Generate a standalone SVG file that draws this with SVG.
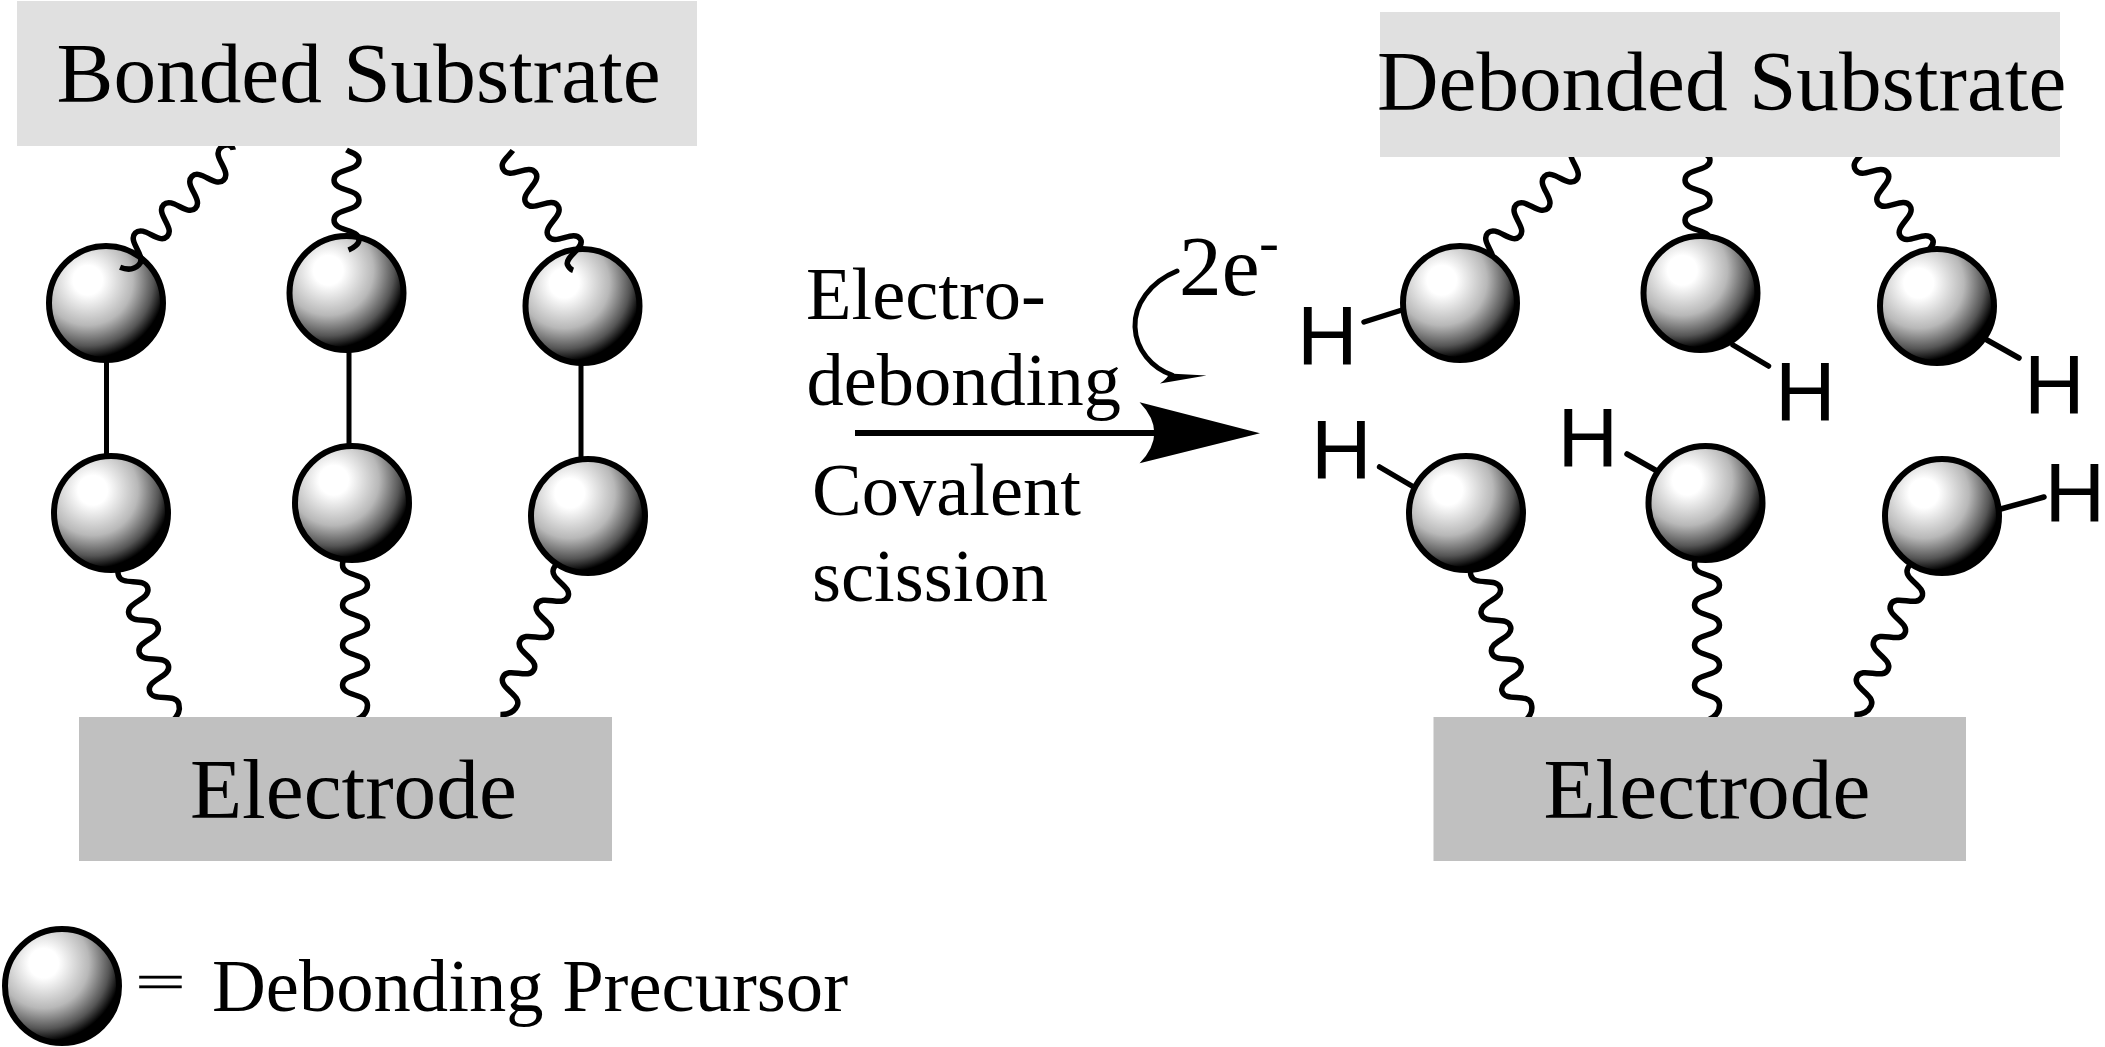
<svg xmlns="http://www.w3.org/2000/svg" width="2105" height="1047" viewBox="0 0 2105 1047">
<style>
.t{font-family:"Liberation Serif","Times New Roman",serif;fill:#000}
.s{font-size:85.3px}
.m{font-size:74.5px}
.h{font-family:"Liberation Sans",Arial,sans-serif;font-size:84px;fill:#000}
.b{fill:url(#sph);stroke:#000;stroke-width:6}
.w{fill:none;stroke:#000;stroke-width:5.5}
.l{fill:none;stroke:#000;stroke-width:5}
.r{fill:none;stroke:#000;stroke-width:5.5;stroke-linecap:round}
.sub{fill:#e0e0e0}
.el{fill:#c0c0c0}
</style>
<defs>
<radialGradient id="sph" cx="0.34" cy="0.3" r="0.72">
<stop offset="0.18" stop-color="#fff"/>
<stop offset="0.55" stop-color="#b8b8b8"/>
<stop offset="0.8" stop-color="#555"/>
<stop offset="0.95" stop-color="#000"/>
</radialGradient>
<path id="w4" class="w" d="M-2,-8C-6,-11 -12.5,-8 -12.5,0C-12.5,12 12.5,8 12.5,20S-12.5,28 -12.5,40S12.5,48 12.5,60S-12.5,68 -12.5,80S12.5,88 12.5,100S-12.5,108 -12.5,120S12.5,128 12.5,140C12.5,147 8,152 1,155"/>
<path id="w3" class="w" d="M6,-11C-2,-8 -12.5,-9 -12.5,0C-12.5,12 12.5,8 12.5,20S-12.5,28 -12.5,40S12.5,48 12.5,60S-12.5,68 -12.5,80S12.5,88 12.5,100C12.5,110 -10,106 -12.5,114C-13,117 -12.5,120 -11,122"/>
<path id="w2" class="w" d="M0,0C5,3 12.5,4 12.5,10C12.5,22 -12.5,18 -12.5,30S12.5,38 12.5,50S-12.5,58 -12.5,70S12.5,78 12.5,90C12.5,94 7,98 2,100"/>
</defs>
<rect width="2105" height="1047" fill="#fff"/>

<g id="precursor-top-1"><circle class="b" cx="106" cy="303" r="57"/></g>
<g id="precursor-top-2"><circle class="b" cx="346.5" cy="293" r="57"/></g>
<g id="precursor-top-3"><circle class="b" cx="582.5" cy="306" r="57"/></g>

<g id="connectors">
<use href="#w4" transform="translate(229,157) rotate(45)"/>
<use href="#w2" transform="translate(346.5,150)"/>
<use href="#w3" transform="translate(514,163) rotate(-34)"/>
<use href="#w4" transform="translate(130.5,572) rotate(-15)"/>
<use href="#w4" transform="translate(355,565)"/>
<use href="#w4" transform="translate(565,573.6) rotate(25)"/>
<path class="l" d="M106.5,361V455M349,351V445M581,364V458"/>

<use href="#w4" transform="translate(1581.5,157) rotate(45)"/>
<use href="#w2" transform="translate(1697.5,150)"/>
<use href="#w3" transform="translate(1866,163) rotate(-34)"/>
<use href="#w4" transform="translate(1483,572) rotate(-15)"/>
<use href="#w4" transform="translate(1707,565)"/>
<use href="#w4" transform="translate(1919,573.6) rotate(25)"/>

<path class="r" d="M1364,322L1402,310M1733,345L1768.5,366M1987,340L2019,358M1379.6,467L1412,486M1627,454L1657,471M2000.7,509L2044,497"/>

<path fill="none" stroke="#000" stroke-width="6" d="M855,433H1156"/>
<path fill="#000" d="M1260,433.3L1139.6,402.3Q1169,433 1139.6,463.3Z"/>
<path fill="none" stroke="#000" stroke-width="5" stroke-linecap="round" d="M1177,271C1150,282 1134,305 1135,327C1136,350 1152,368 1172,375"/>
<path fill="#000" d="M1206.5,375.5L1169,373.5Q1168,378 1160,383.5Z"/>
</g>

<g id="bonded-substrate"><rect class="sub" x="17" y="1" width="680" height="145"/><text class="t s" x="56.5" y="102">Bonded Substrate</text></g>
<g id="debonded-substrate"><rect class="sub" x="1380" y="12" width="680" height="145"/><text class="t s" x="1377" y="110">Debonded Substrate</text></g>
<g id="electrode-left"><rect class="el" x="79" y="717" width="533" height="144"/><text class="t s" x="190" y="818">Electrode</text></g>
<g id="electrode-right"><rect class="el" x="1433.5" y="717" width="532.5" height="144"/><text class="t s" x="1543.5" y="818">Electrode</text></g>

<g id="precursor-bottom-1"><circle class="b" cx="111" cy="513" r="57"/></g>
<g id="precursor-bottom-2"><circle class="b" cx="352" cy="503" r="57"/></g>
<g id="precursor-bottom-3"><circle class="b" cx="588" cy="516" r="57"/></g>

<g id="debonded-top-1"><circle class="b" cx="1460" cy="303" r="57"/></g>
<g id="debonded-top-2"><circle class="b" cx="1700.5" cy="293" r="57"/></g>
<g id="debonded-top-3"><circle class="b" cx="1937" cy="306" r="57"/></g>
<g id="debonded-bottom-1"><circle class="b" cx="1466" cy="513" r="57"/></g>
<g id="debonded-bottom-2"><circle class="b" cx="1705.5" cy="503" r="57"/></g>
<g id="debonded-bottom-3"><circle class="b" cx="1942" cy="516" r="57"/></g>

<g id="hydrogens">
<text class="h" x="1297" y="365">H</text>
<text class="h" x="1775" y="421">H</text>
<text class="h" x="2024" y="414">H</text>
<text class="h" x="1311" y="479">H</text>
<text class="h" x="1557.6" y="467">H</text>
<text class="h" x="2044.4" y="522">H</text>
</g>

<g id="labels">
<text class="t m" x="806" y="319">Electro-</text>
<text class="t m" x="806.5" y="405">debonding</text>
<text class="t m" x="812" y="515">Covalent</text>
<text class="t m" x="812" y="601">scission</text>
<text class="t s" x="1179" y="295">2e<tspan x="1259" y="262" font-size="60">-</tspan></text>
</g>

<g id="legend">
<circle class="b" cx="62" cy="986" r="57"/>
<text class="t" font-size="90" stroke="#000" stroke-width=".6" transform="translate(135,981) scale(1,.55) translate(0,31)">=</text>
<text class="t" font-size="74.6" x="212" y="1011">Debonding Precursor</text>
</g>
</svg>
